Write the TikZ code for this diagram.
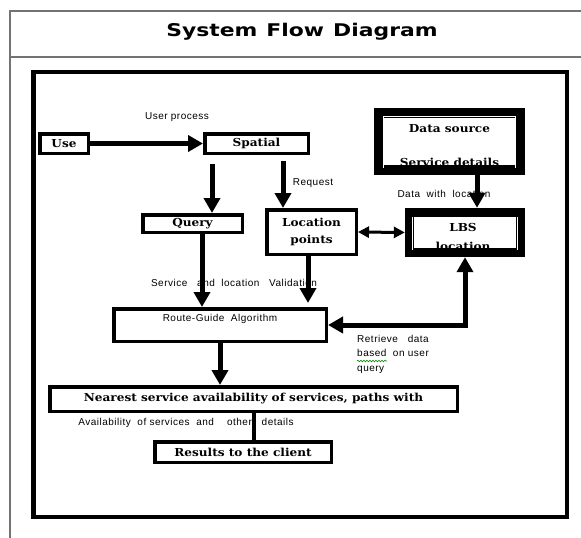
\documentclass[tikz,border=0pt]{standalone}
\usepackage{fontspec}
\usetikzlibrary{arrows.meta,decorations.pathmorphing}
\newfontfamily\boxfont[FakeStretch=1.1]{DejaVu Serif}
\newfontfamily\lblfont[LetterSpace=5]{Liberation Sans}
\newfontfamily\titlefont[FakeStretch=1.25]{DejaVu Sans}

\begin{document}
\begin{tikzpicture}[x=1pt,y=-1pt,
    box/.style={draw,line width=3.5pt,inner sep=0pt,font=\boxfont\bfseries\fontsize{11}{12}\selectfont},
    boxtext/.style={inner sep=0pt,font=\boxfont\bfseries\fontsize{11}{12}\selectfont},
    lbl/.style={inner sep=0pt,font=\lblfont\fontsize{10}{11}\selectfont},
    bigarrow/.style={line width=5pt,-{Triangle[width=16pt,length=15pt]}},
    thickframe/.style={line width=#1},
    hairline/.style={white,line width=1.2pt}]
    \useasboundingbox (0,0) rectangle (581,538);
    % page frame and title
    \draw[black!55,line width=1.5pt] (581,11) -- (10,11) -- (10,538);
    \draw[black!55,line width=1.5pt] (10,57) -- (581,57);
    \path (302,32) node[font=\titlefont\bfseries\fontsize{17.5}{20}\selectfont](title){System\hspace{9pt}Flow\hspace{9pt}Diagram};
    \draw[line width=4.5pt] (33.5,72) rectangle (567,517);

    % labels first, the arrows run over them
    \path (177,117) node[lbl](userproc){User process};
    \path (313,183) node[lbl](request){Request};
    \path (444,194) node[lbl](datawith){Data\ \ with\ \ location};
    \path (234,283) node[lbl](validation){Service\ \ \ and\ \ location\ \ \ Validation};
    \path (357,335) node[lbl,anchor=north west,align=left,font=\lblfont\fontsize{10}{14.5}\selectfont](retrieve){Retrieve\ \ \ data\\based\ \ on user\\query};
    \draw[green!55!black,line width=0.6pt,decorate,decoration={snake,amplitude=0.8pt,segment length=3pt}] (357,361) -- (387,361);
    \path (186,423) node[lbl](avail){Availability\ \ of services\ \ and\ \ \ \ other\ \ \ details};

    % boxes
    \path (64,143.5) node[box,minimum width=48.5pt,minimum height=19.5pt](use){Use};
    \path (256.5,143.5) node[box,minimum width=103.5pt,minimum height=19.5pt](spatial){Spatial};
    \path (192.5,223.5) node[box,minimum width=99.5pt,minimum height=17.5pt](query){Query};
    \path (311.5,232) node[box,minimum width=89.5pt,minimum height=44.5pt,align=center](location){Location\\[5pt]points};
    \path (220,325) node[box,minimum width=212.5pt,minimum height=32.5pt,
        label={[lbl,yshift=6pt]center:Route-Guide\ \ Algorithm}](route){};
    \path (253.5,399) node[box,minimum width=407.5pt,minimum height=24.5pt](nearest){Nearest service availability of services, paths with};
    \path (243,452) node[box,minimum width=176.5pt,minimum height=20.5pt](results){Results to the client};

    % data source and LBS, frames drawn over their text
    \path (449.5,141.5) node[minimum width=141pt,minimum height=57pt](ds){};
    \path (449.5,129) node[boxtext](dsa){Data source};
    \path (449.5,162) node[boxtext](dsb){Service details};
    \draw[thickframe=10pt] (ds.north west) rectangle (ds.south east);
    \draw[hairline] ([shift={(4.5pt,2pt)}]ds.south west) -- ([shift={(4.5pt,-3.5pt)}]ds.north west)
        -- ([shift={(-4.5pt,-3.5pt)}]ds.north east) -- ([shift={(-4.5pt,2pt)}]ds.south east);
    \path (465,232.5) node[minimum width=111pt,minimum height=40pt](lbs){};
    \path (463,227) node[boxtext](lbsa){LBS};
    \path (463,246) node[boxtext](lbsb){location};
    \draw[thickframe=9pt] (lbs.north west) rectangle (lbs.south east);
    \draw[hairline] ([shift={(3.5pt,3pt)}]lbs.south west) -- ([shift={(3.5pt,-4.5pt)}]lbs.north west);
    \draw[hairline] ([shift={(-3.5pt,3pt)}]lbs.south east) -- ([shift={(-3.5pt,-4.5pt)}]lbs.north east);

    % connectors
    \draw[bigarrow] (use) -- (spatial);
    \draw[bigarrow] ([xshift=-44.5pt,yshift=-9pt]spatial.south) -- ([xshift=19.5pt]query.north);
    \draw[bigarrow] ([xshift=26.5pt,yshift=-6pt]spatial.south) -- ([xshift=-28.5pt]location.north);
    \draw[bigarrow] ([xshift=9.5pt]query.south) -- ([xshift=-18pt]route.north);
    \draw[bigarrow] ([xshift=-3.5pt]location.south) -- ([xshift=88pt,yshift=4pt]route.north);
    \draw[bigarrow] ([xshift=27.5pt]ds.south) -- ([xshift=12pt,yshift=4.5pt]lbs.north);
    \draw[line width=3pt,{Triangle[width=11pt,length=11pt]}-{Triangle[width=11pt,length=11pt]}] (location.east) -- ([xshift=-4.5pt]lbs.west);
    \draw[line width=5pt,{Triangle[width=16pt,length=15pt]}-{Triangle[width=16pt,length=15pt]}] ([yshift=-4.5pt]lbs.south) |- (route.east);
    \draw[bigarrow] (route) -- (route |- nearest.north);
    \draw[line width=4pt] (nearest.south) -- (nearest.south |- results.north);
\end{tikzpicture}
\end{document}
